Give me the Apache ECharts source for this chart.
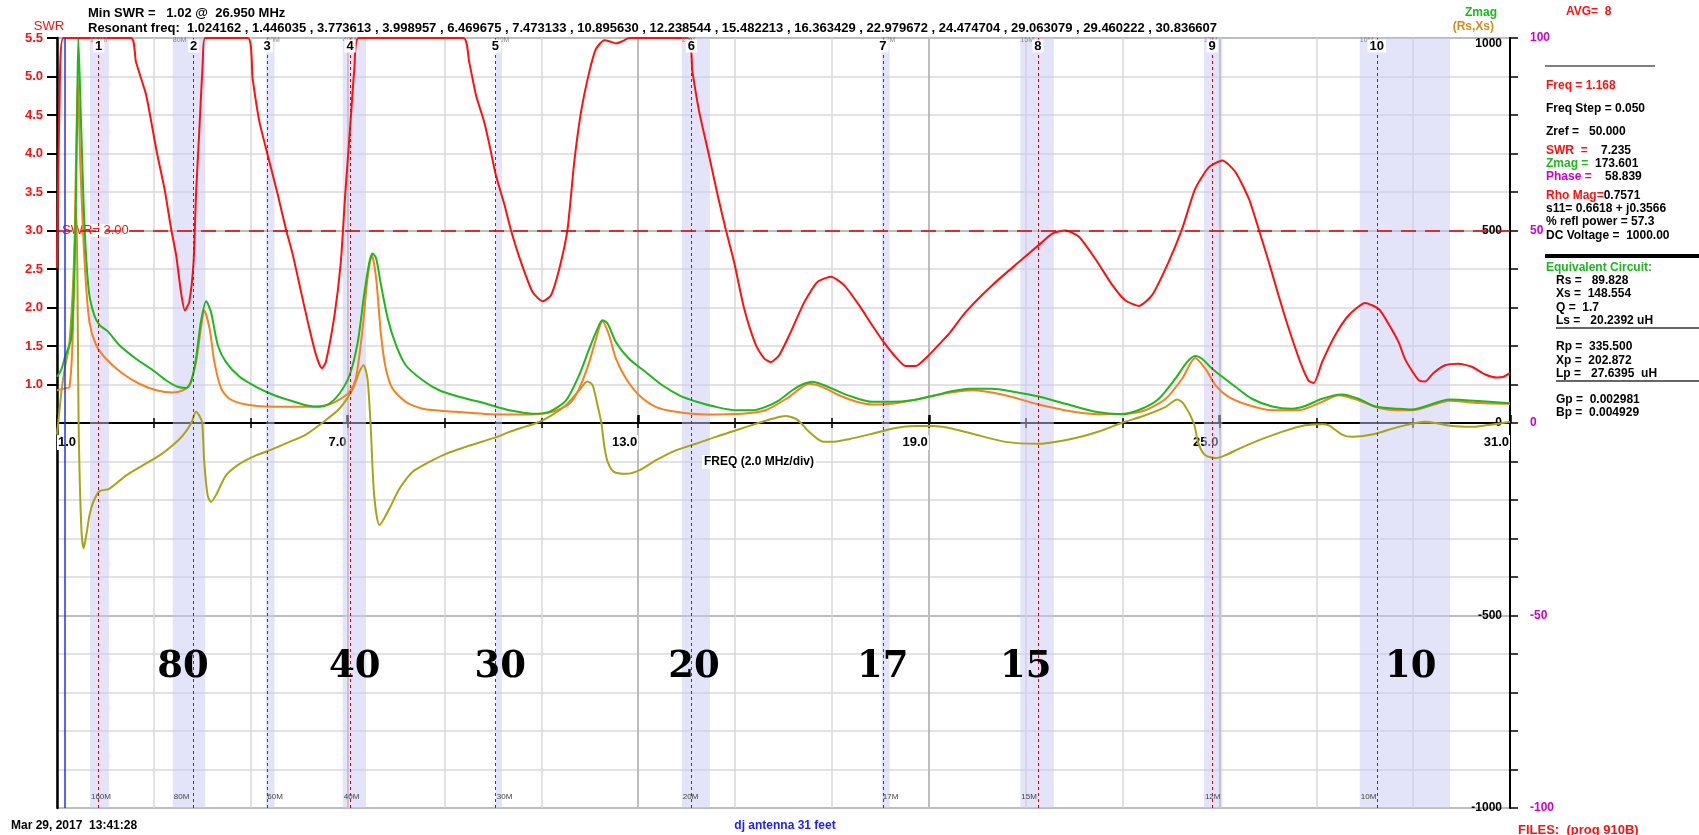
<!DOCTYPE html>
<html>
<head>
<meta charset="utf-8">
<title>dj antenna 31 feet</title>
<script src="https://cdn.jsdelivr.net/npm/echarts@6.0.0/dist/echarts.min.js"></script>
<style>
html,body{margin:0;padding:0;background:#fff;}
#chart{width:1699px;height:835px;}
</style>
</head>
<body>
<div id="chart"></div>
<script>
// ---------------- DATA ----------------
const swrFreq = [1.0,1.02,1.05,1.13,2.53,2.63,2.84,3.06,3.22,3.36,3.46,3.56,3.64,3.73,3.82,3.87,3.94,4.01,4.06,4.94,5.04,5.18,5.35,5.56,5.73,5.87,6.04,6.18,6.35,6.47,6.55,6.73,6.86,6.95,7.05,7.14,7.23,9.39,9.51,9.65,9.82,9.93,10.06,10.24,10.37,10.58,10.82,11.03,11.2,11.37,11.54,11.68,11.82,11.99,12.13,12.3,12.44,12.54,12.68,12.81,14.02,14.12,14.26,14.46,14.64,14.81,14.98,15.19,15.43,15.6,15.74,15.91,16.12,16.43,16.7,16.98,17.25,17.56,17.83,18.07,18.31,18.52,18.73,19.0,19.21,19.42,19.76,20.31,20.86,21.27,21.55,21.82,22.1,22.44,22.79,23.06,23.34,23.61,23.95,24.23,24.5,24.78,25.06,25.33,25.61,25.81,26.02,26.22,26.43,26.67,26.84,26.95,27.12,27.39,27.67,28.01,28.29,28.49,28.7,28.84,29.11,29.25,29.42,29.66,29.93,30.21,30.49,30.73,30.87,31.0];
const swrVal = [2.51,3.46,4.54,5.5,5.5,5.19,4.76,4.02,3.54,3.01,2.68,2.2,1.96,2.07,2.59,3.46,4.32,5.19,5.5,5.5,4.97,4.41,3.98,3.46,3.01,2.68,2.2,1.81,1.38,1.21,1.29,1.9,2.59,3.46,4.32,5.1,5.5,5.5,5.19,4.76,4.41,4.11,3.72,3.33,3.01,2.59,2.2,2.08,2.16,2.5,3.01,3.89,4.54,5.06,5.36,5.47,5.45,5.43,5.46,5.5,5.5,5.06,4.54,3.98,3.46,3.01,2.59,1.98,1.51,1.34,1.29,1.38,1.64,2.07,2.33,2.4,2.29,2.03,1.77,1.55,1.36,1.24,1.24,1.38,1.52,1.66,1.94,2.29,2.59,2.81,2.96,3.0,2.92,2.63,2.29,2.09,2.02,2.16,2.59,3.02,3.54,3.82,3.91,3.76,3.41,3.02,2.59,2.16,1.73,1.29,1.05,1.02,1.29,1.64,1.9,2.06,1.98,1.79,1.55,1.32,1.06,1.04,1.15,1.25,1.27,1.23,1.13,1.09,1.1,1.15];

const zmagFreq = [1.0,1.09,1.17,1.29,1.36,1.41,1.44,1.5,1.57,1.66,1.77,1.88,2.05,2.29,2.63,2.98,3.25,3.49,3.67,3.77,3.87,3.97,4.08,4.18,4.32,4.49,4.77,5.11,5.45,5.8,6.14,6.42,6.62,6.83,7.04,7.21,7.34,7.45,7.52,7.59,7.69,7.83,8.0,8.2,8.55,8.89,9.3,9.72,10.13,10.34,10.82,11.16,11.51,11.78,11.99,12.16,12.26,12.37,12.54,12.81,13.16,13.5,13.85,14.19,14.6,15.02,15.36,15.63,15.91,16.18,16.39,16.6,16.8,17.08,17.42,17.83,18.24,18.66,19.0,19.21,19.42,19.83,20.31,20.72,21.27,21.82,22.44,22.99,23.4,23.75,24.09,24.33,24.5,24.64,24.85,25.06,25.33,25.67,26.09,26.5,26.77,27.12,27.53,27.87,28.22,28.7,28.97,29.76,30.35,31.0];
const zmagVal = [120,139,174,218,391,737,1000,765,505,340,280,254,238,202,167,137,111,94,91,107,167,262,316,288,202,158,120,94,74,59,46,42,50,76,124,210,332,418,440,427,358,271,202,150,111,85,68,55,40,33,24,29,59,124,193,245,267,258,210,167,132,98,72,56,42,33,33,42,59,85,100,107,100,85,68,55,55,59,68,74,81,89,89,82,69,50,29,23,37,63,115,158,174,167,141,120,94,63,43,37,44,63,74,63,43,37,35,61,57,51];

const rsFreq = [1.0,1.17,1.26,1.33,1.38,1.43,1.48,1.57,1.67,1.81,2.01,2.36,2.7,3.05,3.39,3.6,3.73,3.87,3.97,4.04,4.15,4.25,4.39,4.56,4.9,5.45,6.14,6.55,6.83,7.04,7.17,7.31,7.41,7.5,7.59,7.69,7.79,7.93,8.2,8.55,9.24,10.13,10.75,11.23,11.58,11.78,11.99,12.13,12.26,12.4,12.54,12.75,13.02,13.36,13.78,14.4,15.15,15.63,16.12,16.53,16.8,17.15,17.49,17.83,18.24,18.66,19.21,19.9,20.58,21.27,21.96,22.51,23.06,23.47,23.89,24.23,24.5,24.71,24.92,25.19,25.61,26.09,26.64,27.12,27.46,27.87,28.29,28.7,28.97,29.76,30.35,31.0];
const rsVal = [85,90,94,245,591,895,678,418,262,202,167,128,102,85,79,85,98,158,245,293,245,158,89,63,48,42,42,46,61,81,115,245,375,436,375,228,141,89,55,37,29,22,22,29,50,89,158,219,264,228,167,115,72,42,29,22,24,33,68,102,94,72,56,48,50,59,74,85,72,48,30,23,24,33,63,115,169,141,98,68,46,33,33,55,72,59,39,33,33,58,52,50];

const xsFreq = [1.0,1.024,1.1,1.17,1.25,1.32,1.37,1.4,1.43,1.446,1.47,1.51,1.55,1.6,1.67,1.75,1.88,2.08,2.43,2.77,3.12,3.39,3.6,3.774,3.87,3.95,3.999,4.04,4.11,4.18,4.28,4.49,4.77,5.11,5.45,5.8,6.14,6.47,6.83,7.11,7.24,7.33,7.41,7.473,7.55,7.66,7.86,8.07,8.34,8.69,9.03,9.44,9.79,10.13,10.34,10.6,10.9,11.16,11.51,11.78,11.95,12.06,12.16,12.24,12.3,12.37,12.5,12.75,13.02,13.36,13.78,14.19,14.6,15.02,15.48,15.77,16.05,16.25,16.36,16.53,16.8,17.01,17.35,17.83,18.31,18.73,19.07,19.42,19.9,20.58,21.27,21.96,22.51,22.98,23.47,23.89,24.13,24.26,24.47,24.57,24.71,24.92,25.12,25.4,25.81,26.29,26.77,27.12,27.26,27.53,27.74,28.15,28.7,29.06,29.25,29.46,29.8,30.2,30.5,30.84,31.0];
const xsVal = [-30,0,90,149,200,330,480,560,250,0,-150,-290,-325,-295,-240,-205,-177,-171,-136,-110,-84,-58,-32,0,29,16,0,-101,-188,-205,-188,-136,-106,-84,-68,-49,-30,0,37,89,132,150,115,0,-190,-265,-223,-171,-127,-101,-80,-62,-48,-34,-23,-12,0,16,46,85,108,98,46,0,-60,-101,-127,-132,-123,-97,-71,-54,-36,-19,0,11,18,11,0,-23,-48,-49,-42,-28,-13,-8,-8,-13,-28,-49,-54,-41,-22,0,20,42,61,50,0,-54,-84,-91,-84,-67,-45,-23,-6,-3,-6,-30,-36,-30,-10,0,3,0,-8,-10,-6,0,3];

// band markers (MHz)
const markerNum  = ['1','2','3','4','5','6','7','8','9','10'];
const markerFreq = [1.86,3.82,5.34,7.05,10.05,14.1,18.05,21.25,24.85,28.25];
const bandName   = ['160M','80M','60M','40M','30M','20M','17M','15M','12M','10M'];
const bandStart  = [1.68,3.39,5.32,6.9,10.06,13.9,18.03,20.89,24.68,27.9];
const bandEnd    = [2.07,4.06,5.49,7.38,10.19,14.48,18.19,21.58,25.06,29.76];
const bigLabel     = ['80','40','30','20','17','15','10'];
const bigLabelFreq = [3.6,7.15,10.15,14.15,18.05,21.0,28.95];
const cursorFreq = 1.168;
const swrLimit = 3.0;
const freqLabelEvery = 6;   // labelled x ticks: 1.0, 7.0, 13.0 ...
const resonantFreqs = ['1.024162','1.446035','3.773613','3.998957','6.469675','7.473133','10.895630','12.238544','15.482213','16.363429','22.979672','24.474704','29.063079','29.460222','30.836607'];

// ---------------- STYLE ----------------
const FONT = '"Liberation Sans", Arial, sans-serif';
const RED = '#ff1010', GREEN = '#1cb81c', ORANGE = '#f5821f', OLIVE = '#a8a414', MAGENTA = '#cc00cc';
const GRID_L = 57, GRID_T = 38, GRID_W = 1453, GRID_H = 770;

const pairs = (fs, vs) => fs.map((f, i) => [f, vs[i]]);

const option = {
  animation: false,
  backgroundColor: '#ffffff',
  textStyle: { fontFamily: FONT },
  grid: [
    { left: GRID_L, top: GRID_T, width: GRID_W, height: GRID_H, show: false, containLabel: false },
    { left: GRID_L, top: GRID_T, width: GRID_W, height: GRID_H * 4.5 / 10, show: false, containLabel: false },
    { left: GRID_L, top: GRID_T, width: GRID_W, height: GRID_H / 2, show: false, containLabel: false }
  ],
  xAxis: [
    { type: 'value', gridIndex: 0, position: 'bottom', min: 1, max: 31, interval: 2,
      axisLine: { show: false, onZero: false }, axisTick: { show: false }, axisLabel: { show: false },
      splitLine: { show: true, lineStyle: { color: '#d9d9d9', width: 1.5 } } },
    { type: 'value', gridIndex: 0, position: 'bottom', min: 1, max: 31, interval: freqLabelEvery,
      axisLine: { show: false, onZero: false }, axisTick: { show: false }, axisLabel: { show: false },
      splitLine: { show: true, lineStyle: { color: '#bdbdbd', width: 2 } } },
    { type: 'value', gridIndex: 1, min: 1, max: 31, show: false },
    // frequency axis drawn along the zero line (bottom edge of grid 2)
    { type: 'value', gridIndex: 2, position: 'bottom', min: 1, max: 31, interval: 2,
      axisLine: { show: true, onZero: false, lineStyle: { color: '#000', width: 2 } },
      axisTick: { show: true, length: 5, lineStyle: { color: '#000', width: 1.5 } },
      axisLabel: { show: true, showMinLabel: true, showMaxLabel: true, hideOverlap: false,
        formatter: v => ((Math.round(v) - 1) % freqLabelEvery === 0 ? '{a|' + v.toFixed(1) + '}' : ''),
        align: 'right', alignMinLabel: 'left', margin: 12,
        rich: { a: { color: '#000', fontWeight: 'bold', fontSize: 13, fontFamily: FONT, backgroundColor: '#fff', padding: [1, 1] } } },
      splitLine: { show: false } },
    // ticks above the zero line
    { type: 'value', gridIndex: 2, position: 'bottom', min: 1, max: 31, interval: 2,
      axisLine: { show: false, onZero: false },
      axisTick: { show: true, inside: true, length: 5, lineStyle: { color: '#000', width: 1.5 } },
      axisLabel: { show: false }, splitLine: { show: false } },
    // larger ticks at the labelled frequencies
    { type: 'value', gridIndex: 2, position: 'bottom', min: 1, max: 31, interval: freqLabelEvery,
      axisLine: { show: false, onZero: false },
      axisTick: { show: true, inside: true, length: 8, lineStyle: { color: '#000', width: 2.5 } },
      axisLabel: { show: false }, splitLine: { show: false } }
  ],
  yAxis: [
    { type: 'value', gridIndex: 0, position: 'left', min: -4.5, max: 5.5, interval: 0.5,
      axisLine: { show: true, onZero: false, lineStyle: { color: '#000', width: 2.5 } },
      axisTick: { show: false }, axisLabel: { show: false },
      splitLine: { show: true, lineStyle: { color: '#d9d9d9', width: 1.5 } } },
    { type: 'value', gridIndex: 0, position: 'right', min: -1000, max: 1000, interval: 100,
      axisLine: { show: true, onZero: false, lineStyle: { color: '#000', width: 2 } },
      axisTick: { show: true, length: 8, lineStyle: { color: '#000', width: 1.5 } },
      axisLabel: { show: true, inside: true, margin: 8, showMinLabel: true, showMaxLabel: true, hideOverlap: false,
        verticalAlignMaxLabel: 'top',
        formatter: v => (Math.abs(v) % 500 === 0 ? String(v) : ''),
        color: '#000', fontWeight: 'bold', fontSize: 12 },
      splitLine: { show: false } },
    { type: 'value', gridIndex: 0, position: 'right', min: -100, max: 100, interval: 50,
      axisLine: { show: false, onZero: false }, axisTick: { show: false },
      axisLabel: { show: true, margin: 20, showMinLabel: true, showMaxLabel: true, hideOverlap: false,
        color: MAGENTA, fontWeight: 'bold', fontSize: 12 },
      splitLine: { show: true, lineStyle: { color: '#bdbdbd', width: 2 } } },
    { type: 'value', gridIndex: 1, position: 'left', min: 1, max: 5.5, interval: 0.5,
      axisLine: { show: false, onZero: false },
      axisTick: { show: true, length: 10, lineStyle: { color: '#000', width: 2 } },
      axisLabel: { show: true, margin: 14, showMinLabel: true, showMaxLabel: true, hideOverlap: false,
        formatter: v => v.toFixed(1), color: RED, fontWeight: 'bold', fontSize: 13 },
      splitLine: { show: false } },
    { type: 'value', gridIndex: 2, min: 0, max: 1000, show: false }
  ],
  series: [
    { type: 'line', name: 'Xs', xAxisIndex: 0, yAxisIndex: 1, data: pairs(xsFreq, xsVal),
      symbol: 'none', showSymbol: false, smooth: 0.25, clip: true,
      lineStyle: { color: OLIVE, width: 2 },
      markArea: { silent: true, itemStyle: { color: 'rgba(200,200,245,0.5)' },
        data: bandStart.map((s, i) => [{ xAxis: s }, { xAxis: bandEnd[i] }]) },
      markLine: { silent: true, symbol: ['none', 'none'], label: { show: false },
        lineStyle: { color: '#e00000', type: [3, 3], width: 1 },
        data: markerFreq.map(f => ({ xAxis: f })) } },
    { type: 'line', name: 'Rs', xAxisIndex: 0, yAxisIndex: 1, data: pairs(rsFreq, rsVal),
      symbol: 'none', showSymbol: false, smooth: 0.25, clip: true,
      lineStyle: { color: ORANGE, width: 2 } },
    { type: 'line', name: 'Zmag', xAxisIndex: 0, yAxisIndex: 1, data: pairs(zmagFreq, zmagVal),
      symbol: 'none', showSymbol: false, smooth: 0.25, clip: true,
      lineStyle: { color: GREEN, width: 2 } },
    { type: 'line', name: 'SWR', xAxisIndex: 0, yAxisIndex: 0, data: pairs(swrFreq, swrVal),
      symbol: 'none', showSymbol: false, smooth: 0.2, clip: true,
      lineStyle: { color: RED, width: 2 },
      markLine: { silent: true, symbol: ['none', 'none'], label: { show: false },
        data: [
          { yAxis: swrLimit, lineStyle: { color: '#dd0000', type: [15, 9], width: 1.5 } },
          { xAxis: cursorFreq, lineStyle: { color: '#2030ff', type: 'solid', width: 1.5 } }
        ] } }
  ]
};

const chart = echarts.init(document.getElementById('chart'), null, { renderer: 'canvas', width: 1699, height: 835 });
chart.setOption(option);

// ---------------- ANNOTATIONS ----------------
const px = f => chart.convertToPixel({ xAxisIndex: 0 }, f);
const pySwr = v => chart.convertToPixel({ yAxisIndex: 0 }, v);
const pyR = v => chart.convertToPixel({ yAxisIndex: 1 }, v);

function T(x, y, text, o) {
  o = o || {};
  const st = {
    text: text,
    fill: o.color || '#000',
    font: (o.weight || 'bold') + ' ' + (o.size || 12) + 'px ' + (o.family || FONT),
    align: o.align || 'left',
    verticalAlign: o.va || 'middle'
  };
  if (o.bg) st.backgroundColor = o.bg;
  if (o.pad) st.padding = o.pad;
  if (o.rich) st.rich = o.rich;
  return { type: 'text', x: x, y: y, z: o.z != null ? o.z : 5, silent: true, style: st };
}
function L(x1, y1, x2, y2, w, c) {
  return { type: 'line', silent: true, z: 5, shape: { x1: x1, y1: y1, x2: x2, y2: y2 }, style: { stroke: c || '#000', lineWidth: w || 1 } };
}
const richLbl = c => ({ r: { fill: c, font: 'bold 12px ' + FONT } });

const els = [];
// header
els.push(T(49, 26, 'SWR', { color: RED, weight: 'normal', size: 13, align: 'center' }));
els.push(T(88, 13, 'Min SWR =   1.02 @  26.950 MHz', { size: 13 }));
els.push(T(88, 28, 'Resonant freq:  ' + resonantFreqs.join(' , '), { size: 13 }));
els.push(T(1497, 13, 'Zmag', { color: GREEN, align: 'right' }));
els.push(T(1494, 27, '(Rs,Xs)', { color: '#d48c1c', align: 'right' }));
els.push(T(1566, 12, 'AVG=  8', { color: RED }));

// right readout panel
const PX = 1546, PX2 = 1556;
els.push(L(1545, 66, 1655, 66, 1.2));
els.push(T(PX, 86, 'Freq = 1.168', { color: RED }));
els.push(T(PX, 109, 'Freq Step = 0.050'));
els.push(T(PX, 132, 'Zref =   50.000'));
els.push(T(PX, 151, '{r|SWR  =}    7.235', { rich: richLbl(RED) }));
els.push(T(PX, 164, '{r|Zmag =}  173.601', { rich: richLbl(GREEN) }));
els.push(T(PX, 177, '{r|Phase =}    58.839', { rich: richLbl(MAGENTA) }));
els.push(T(PX, 196, '{r|Rho Mag=}0.7571', { rich: richLbl(RED) }));
els.push(T(PX, 209, 's11= 0.6618 + j0.3566'));
els.push(T(PX, 222, '% refl power = 57.3'));
els.push(T(PX, 236, 'DC Voltage =  1000.00'));
els.push(L(1545, 256, 1699, 256, 4));
els.push(T(PX, 268, 'Equivalent Circuit:', { color: GREEN }));
els.push(T(PX2, 281, 'Rs =   89.828'));
els.push(T(PX2, 294, 'Xs =  148.554'));
els.push(T(PX2, 308, 'Q =  1.7'));
els.push(T(PX2, 321, 'Ls =   20.2392 uH'));
els.push(L(1556, 328, 1699, 328, 1.5, '#333'));
els.push(T(PX2, 347, 'Rp =  335.500'));
els.push(T(PX2, 361, 'Xp =  202.872'));
els.push(T(PX2, 374, 'Lp =   27.6395  uH'));
els.push(L(1556, 381, 1699, 381, 1.5, '#333'));
els.push(T(PX2, 400, 'Gp =  0.002981'));
els.push(T(PX2, 413, 'Bp =  0.004929'));

// footer
els.push(T(11, 826, 'Mar 29, 2017  13:41:28'));
els.push(T(785, 826, 'dj antenna 31 feet', { color: '#2020ff', align: 'center' }));
els.push(T(1518, 830, 'FILES:  (prog 910B)', { color: RED, size: 13 }));

// x-axis name
els.push(T(759, 462, 'FREQ (2.0 MHz/div)', { align: 'center', bg: '#fff', pad: [1, 2] }));

// SWR limit label
els.push(T(61, pySwr(swrLimit), 'SWR= 3.00', { color: RED, weight: 'normal', size: 13, bg: '#fff', pad: [0, 1], z: 3 }));

// band markers
markerFreq.forEach((f, i) => {
  els.push(T(px(bandStart[i]), 40, bandName[i], { color: '#888', weight: 'normal', size: 7, z: 6 }));
  els.push(T(px(f), 46, markerNum[i], { align: 'center', size: 13, bg: '#fff', pad: [0, 2], z: 7 }));
  els.push(T(px(bandStart[i]) + 1, 797, bandName[i], { color: '#444', weight: 'normal', size: 8, z: 6 }));
});
bigLabel.forEach((t, i) => {
  els.push(T(px(bigLabelFreq[i]), pyR(-635), t, { family: '"DejaVu Serif", "Liberation Serif", serif', size: 37, align: 'center', z: 8 }));
});

chart.setOption({ graphic: { elements: els } });
</script>
</body>
</html>
